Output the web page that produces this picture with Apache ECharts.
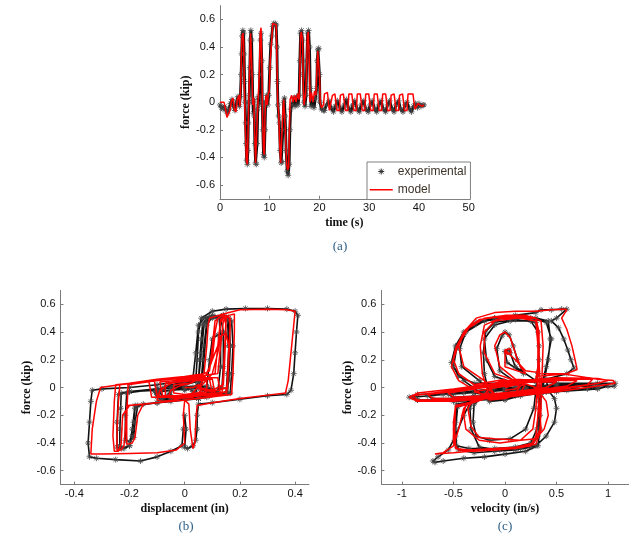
<!DOCTYPE html>
<html>
<head>
<meta charset="utf-8">
<script src="https://cdn.jsdelivr.net/npm/echarts@6/dist/echarts.min.js"></script>
<style>html,body{margin:0;padding:0;background:#fff;}#c{width:636px;height:542px;}</style>
</head>
<body>
<div id="c"></div>
<script>
// ---------- (a) force vs time ----------
const expTimeForce = [[0,-0.02],[0.3,-0.04],[0.6,-0.05],[0.9,-0.03],[1.2,-0.06],[1.5,-0.08],[1.8,-0.05],[2.1,-0.01],[2.4,0.02],[2.7,-0.03],[3.0,-0.06],[3.3,0.0],[3.6,0.04],[3.9,-0.03],[4.1,0.04],[4.25,0.2],[4.35,0.35],[4.45,0.48],[4.6,0.52],[4.75,0.5],[4.85,0.35],[4.95,0.15],[5.05,0.0],[5.15,-0.15],[5.25,-0.3],[5.35,-0.42],[5.5,-0.45],[5.6,-0.35],[5.7,-0.15],[5.8,0.0],[5.9,0.05],[6.0,0.25],[6.1,0.45],[6.2,0.52],[6.35,0.45],[6.5,0.2],[6.6,0.0],[6.7,-0.08],[6.8,0.02],[6.9,-0.1],[7.0,-0.3],[7.15,-0.44],[7.3,-0.45],[7.45,-0.3],[7.6,-0.05],[7.7,0.04],[7.85,-0.02],[8.0,0.2],[8.15,0.45],[8.25,0.5],[8.4,0.3],[8.5,0.0],[8.6,-0.2],[8.75,-0.38],[8.9,-0.4],[9.05,-0.2],[9.2,0.0],[9.4,0.05],[9.6,-0.02],[9.8,0.05],[10.0,0.25],[10.2,0.42],[10.4,0.48],[10.6,0.55],[10.8,0.57],[11.1,0.57],[11.3,0.56],[11.45,0.4],[11.55,0.15],[11.65,-0.02],[11.8,-0.1],[11.95,-0.15],[12.1,-0.35],[12.3,-0.44],[12.5,-0.43],[12.65,-0.2],[12.8,0.0],[12.95,0.03],[13.1,-0.1],[13.3,-0.35],[13.5,-0.5],[13.7,-0.53],[13.9,-0.45],[14.05,-0.2],[14.2,-0.05],[14.5,-0.02],[14.8,0.03],[15.1,-0.03],[15.4,0.04],[15.7,-0.02],[15.9,0.05],[16.05,0.3],[16.2,0.5],[16.4,0.52],[16.6,0.45],[16.75,0.2],[16.9,0.0],[17.1,-0.03],[17.3,0.05],[17.45,0.3],[17.6,0.5],[17.8,0.52],[18.0,0.4],[18.15,0.1],[18.3,-0.03],[18.6,0.02],[18.9,-0.04],[19.2,0.03],[19.45,0.1],[19.55,0.3],[19.7,0.38],[19.85,0.39],[20.0,0.2],[20.1,0.0],[20.4,-0.05],[20.8,-0.06],[21.0,-0.06],[21.4,-0.02],[21.9,0.01],[22.3,-0.04],[22.8,-0.07],[23.2,-0.03],[23.6,0.01],[24.1,-0.04],[24.5,-0.07],[25.0,-0.02],[25.4,0.02],[25.8,-0.04],[26.3,-0.07],[26.7,-0.02],[27.1,0.01],[27.6,-0.05],[28.0,-0.07],[28.4,-0.02],[28.9,0.01],[29.3,-0.05],[29.8,-0.07],[30.2,-0.02],[30.6,0.01],[31.1,-0.05],[31.5,-0.07],[31.9,-0.02],[32.4,0.01],[32.8,-0.05],[33.3,-0.07],[33.7,-0.02],[34.1,0.01],[34.6,-0.05],[35.0,-0.07],[35.4,-0.02],[35.9,0.01],[36.3,-0.05],[36.8,-0.07],[37.2,-0.02],[37.6,0.0],[38.1,-0.05],[38.5,-0.07],[38.9,-0.03],[39.3,-0.01],[39.7,-0.04],[40.0,-0.01],[40.4,-0.03],[40.8,-0.02],[41.0,-0.02]];

const modelTimeForce = [[0,0.0],[0.8,0.0],[1.1,-0.05],[1.4,-0.11],[1.7,-0.12],[2.0,-0.06],[2.3,0.01],[2.6,0.03],[2.9,-0.05],[3.2,-0.07],[3.5,0.02],[3.8,0.05],[4.0,-0.03],[4.15,0.1],[4.3,0.35],[4.45,0.48],[4.6,0.5],[4.75,0.45],[4.9,0.1],[5.1,-0.2],[5.3,-0.42],[5.5,-0.45],[5.65,-0.2],[5.8,0.02],[6.0,0.3],[6.15,0.5],[6.3,0.51],[6.45,0.2],[6.6,-0.02],[6.8,0.03],[6.95,-0.2],[7.15,-0.44],[7.3,-0.45],[7.5,-0.1],[7.7,0.05],[7.9,0.2],[8.1,0.5],[8.25,0.54],[8.4,0.3],[8.55,-0.1],[8.75,-0.35],[8.9,-0.38],[9.05,-0.1],[9.25,0.05],[9.5,-0.02],[9.7,0.06],[9.9,0.08],[10.1,0.3],[10.4,0.45],[10.6,0.57],[11.0,0.58],[11.3,0.56],[11.45,0.3],[11.6,0.0],[11.8,-0.08],[12.0,-0.3],[12.2,-0.44],[12.45,-0.44],[12.6,-0.1],[12.8,0.02],[12.95,0.03],[13.15,-0.2],[13.4,-0.45],[13.6,-0.49],[13.8,-0.47],[13.95,-0.2],[14.1,0.02],[14.4,0.05],[14.7,0.0],[15.0,0.05],[15.3,0.0],[15.6,0.06],[15.9,0.02],[16.05,0.2],[16.2,0.48],[16.35,0.51],[16.6,0.45],[16.75,0.1],[16.9,-0.02],[17.2,0.06],[17.4,0.2],[17.55,0.48],[17.75,0.51],[17.95,0.3],[18.1,0.0],[18.4,0.07],[18.7,0.0],[19.0,0.08],[19.3,0.05],[19.5,0.25],[19.65,0.37],[19.85,0.38],[20.0,0.2],[20.15,0.0],[20.4,-0.04],[20.8,-0.02],[21.0,0.06],[21.6,0.07],[21.8,0.0],[22.0,-0.06],[22.4,-0.06],[22.6,0.05],[23.1,0.06],[23.3,0.0],[23.5,-0.06],[24.0,-0.06],[24.2,0.05],[24.8,0.06],[25.0,0.0],[25.2,-0.06],[25.7,-0.06],[25.9,0.06],[26.5,0.06],[26.7,0.0],[26.9,-0.06],[27.4,-0.06],[27.6,0.06],[28.2,0.06],[28.4,0.0],[28.6,-0.06],[29.1,-0.06],[29.3,0.06],[29.9,0.06],[30.1,0.0],[30.3,-0.06],[30.8,-0.06],[31.0,0.06],[31.6,0.06],[31.8,0.0],[32.0,-0.06],[32.5,-0.06],[32.7,0.06],[33.3,0.06],[33.5,0.0],[33.7,-0.06],[34.2,-0.06],[34.4,0.05],[35.0,0.06],[35.2,0.0],[35.4,-0.06],[35.9,-0.06],[36.1,0.05],[36.7,0.06],[36.9,0.0],[37.1,-0.06],[37.6,-0.06],[37.8,0.06],[38.8,0.06],[39.0,0.0],[39.2,-0.05],[39.6,-0.05],[39.8,-0.01],[40.2,-0.02],[40.6,-0.03],[41.0,-0.02]];

// ---------- (b) force vs displacement ----------
const expDispForce = [[0.0,-0.02],[0.03,0.0],[0.05,0.03],[0.04,-0.04],[0.0,-0.07],[-0.04,-0.08],[-0.06,-0.05],[-0.04,0.0],[0.0,0.03],[0.04,0.05],[0.06,0.06],[0.05,0.0],[0.01,-0.07],[-0.05,-0.09],[-0.09,-0.09],[-0.1,-0.04],[-0.07,0.01],[0.0,0.04],[0.05,0.06],
[0.055,0.2],[0.06,0.35],[0.065,0.46],[0.08,0.5],[0.11,0.51],[0.125,0.5],[0.13,0.35],[0.13,0.15],[0.12,-0.03],[0.05,-0.08],[-0.05,-0.1],[-0.15,-0.12],[-0.18,-0.15],[-0.185,-0.25],[-0.19,-0.35],[-0.2,-0.42],[-0.22,-0.44],[-0.235,-0.42],[-0.235,-0.3],[-0.232,-0.15],[-0.23,-0.04],[-0.2,-0.03],[-0.1,-0.02],[0.0,0.02],[0.05,0.05],
[0.06,0.25],[0.07,0.45],[0.09,0.51],[0.14,0.52],[0.155,0.48],[0.16,0.3],[0.155,0.1],[0.15,-0.04],[0.05,-0.08],[-0.1,-0.11],[-0.18,-0.13],[-0.19,-0.3],[-0.2,-0.42],[-0.23,-0.44],[-0.245,-0.43],[-0.245,-0.25],[-0.24,-0.05],[-0.2,-0.03],[-0.1,-0.01],[0.0,0.02],[0.06,0.05],
[0.07,0.3],[0.08,0.47],[0.1,0.5],[0.15,0.51],[0.17,0.48],[0.175,0.3],[0.17,0.1],[0.165,-0.04],[0.05,-0.08],[-0.1,-0.11],[-0.17,-0.13],[-0.18,-0.25],[-0.185,-0.36],[-0.2,-0.39],[-0.215,-0.38],[-0.215,-0.2],[-0.21,-0.04],[-0.1,-0.01],[0.0,0.02],[0.04,0.05],
[0.045,0.2],[0.05,0.4],[0.06,0.5],[0.1,0.55],[0.15,0.565],[0.22,0.57],[0.3,0.57],[0.37,0.565],[0.4,0.55],[0.41,0.52],[0.405,0.4],[0.4,0.25],[0.395,0.1],[0.385,-0.02],[0.37,-0.05],[0.3,-0.06],[0.2,-0.085],[0.1,-0.11],[0.05,-0.12],[0.045,-0.2],[0.045,-0.3],[0.04,-0.38],[0.03,-0.42],[0.01,-0.44],[0.0,-0.43],[0.005,-0.3],[0.0,-0.2],[-0.005,-0.3],[-0.01,-0.42],[-0.05,-0.46],[-0.1,-0.5],[-0.16,-0.53],[-0.25,-0.52],[-0.32,-0.51],[-0.345,-0.5],[-0.35,-0.4],[-0.345,-0.25],[-0.34,-0.1],[-0.335,-0.02],[-0.3,-0.01],[-0.2,0.0],[-0.1,0.02],[0.0,0.05],[0.03,0.07],
[0.04,0.25],[0.05,0.45],[0.07,0.5],[0.1,0.52],[0.13,0.51],[0.14,0.4],[0.14,0.15],[0.135,0.0],[0.1,-0.04],[0.06,-0.02],[0.07,0.2],[0.08,0.45],[0.1,0.51],[0.14,0.52],[0.16,0.5],[0.165,0.3],[0.16,0.05],[0.15,-0.04],[0.1,-0.05],[0.08,0.0],[0.09,0.2],[0.1,0.35],[0.12,0.38],[0.15,0.39],[0.16,0.3],[0.16,0.1],[0.155,-0.04],
[0.08,-0.07],[0.0,-0.08],[-0.08,-0.08],[-0.1,-0.05],[-0.08,-0.01],[0.0,0.0],[0.08,0.01],[0.1,-0.03],[0.05,-0.07],[-0.05,-0.08],[-0.1,-0.07],[-0.11,-0.03],[-0.05,0.0],[0.05,0.01],[0.1,-0.01],[0.09,-0.06],[0.0,-0.08],[-0.08,-0.07],[-0.09,-0.03],[0.0,-0.01],[0.08,0.0],[0.08,-0.05],[0.0,-0.07],[-0.05,-0.06],[-0.05,-0.02],[0.02,-0.01],[0.03,-0.03]];

const modelDispForce = [[0.0,0.0],[0.03,0.0],[0.05,0.02],[0.06,-0.02],[0.03,-0.07],[-0.03,-0.08],[-0.06,-0.07],[-0.05,-0.02],[-0.02,0.01],[0.02,0.03],[0.05,0.06],[0.07,0.08],[0.06,0.03],[0.02,-0.06],[-0.04,-0.09],[-0.08,-0.1],[-0.1,-0.09],[-0.09,-0.02],[-0.05,0.03],[0.02,0.06],[0.08,0.09],
[0.1,0.2],[0.11,0.4],[0.12,0.5],[0.14,0.52],[0.15,0.5],[0.145,0.3],[0.14,0.1],[0.135,-0.05],[0.05,-0.08],[-0.05,-0.1],[-0.15,-0.12],[-0.21,-0.13],[-0.215,-0.3],[-0.22,-0.42],[-0.23,-0.45],[-0.245,-0.45],[-0.245,-0.3],[-0.24,-0.1],[-0.235,0.02],[-0.15,0.04],[-0.05,0.06],[0.05,0.08],[0.11,0.1],
[0.12,0.3],[0.13,0.47],[0.14,0.5],[0.16,0.51],[0.165,0.45],[0.16,0.2],[0.155,0.0],[0.15,-0.05],[0.0,-0.09],[-0.1,-0.11],[-0.2,-0.13],[-0.225,-0.2],[-0.23,-0.4],[-0.24,-0.46],[-0.255,-0.46],[-0.26,-0.35],[-0.255,-0.1],[-0.25,0.02],[-0.15,0.04],[-0.05,0.06],[0.05,0.08],[0.12,0.1],
[0.13,0.3],[0.14,0.48],[0.16,0.52],[0.18,0.53],[0.18,0.4],[0.175,0.1],[0.17,-0.05],[0.05,-0.08],[-0.05,-0.1],[-0.15,-0.12],[-0.17,-0.2],[-0.18,-0.36],[-0.19,-0.4],[-0.21,-0.41],[-0.21,-0.2],[-0.205,0.02],[-0.1,0.05],[0.0,0.07],[0.06,0.09],
[0.07,0.1],[0.08,0.3],[0.085,0.45],[0.09,0.5],[0.14,0.53],[0.2,0.56],[0.3,0.565],[0.37,0.56],[0.4,0.55],[0.395,0.45],[0.385,0.25],[0.375,0.05],[0.365,-0.04],[0.3,-0.055],[0.2,-0.08],[0.1,-0.11],[0.045,-0.13],[0.04,-0.25],[0.037,-0.4],[0.03,-0.44],[0.02,-0.3],[0.015,-0.12],[0.0,-0.09],[-0.005,-0.2],[0.0,-0.4],[-0.03,-0.45],[-0.1,-0.47],[-0.2,-0.475],[-0.3,-0.48],[-0.34,-0.48],[-0.335,-0.3],[-0.32,-0.1],[-0.305,0.0],[-0.2,0.03],[-0.1,0.06],[0.0,0.08],[0.07,0.1],
[0.09,0.12],[0.1,0.3],[0.11,0.48],[0.13,0.51],[0.14,0.52],[0.15,0.45],[0.145,0.2],[0.14,0.02],[0.1,-0.02],[0.05,0.0],[0.08,0.1],[0.12,0.3],[0.13,0.49],[0.15,0.52],[0.165,0.5],[0.16,0.2],[0.155,0.0],[0.1,-0.03],[0.05,-0.01],[0.1,0.1],[0.12,0.25],[0.13,0.37],[0.15,0.39],[0.16,0.3],[0.155,0.05],[0.15,-0.03],
[0.05,-0.06],[-0.05,-0.07],[-0.1,-0.06],[-0.11,0.05],[-0.05,0.06],[0.05,0.07],[0.1,0.06],[0.11,-0.05],[0.0,-0.07],[-0.12,-0.07],[-0.13,0.05],[0.0,0.07],[0.12,0.07],[0.13,-0.05],[0.02,-0.06],[-0.08,-0.06],[-0.09,0.04],[0.02,0.06],[0.09,0.06],[0.1,-0.04],[-0.02,-0.06],[-0.07,-0.06],[-0.07,0.03],[0.04,0.05],[0.08,0.05],[0.08,-0.03],[0.0,-0.05],[-0.04,-0.04],[-0.04,0.02],[0.02,0.03]];

// ---------- (c) force vs velocity ----------
const expVelForce = [[0.0,-0.02],[0.1,0.0],[0.15,-0.02],[0.1,-0.06],[0.0,-0.07],[-0.1,-0.07],[-0.15,-0.04],[-0.1,0.0],[0.0,0.02],[0.1,0.02],[0.2,0.0],[0.15,-0.06],[0.0,-0.09],[-0.15,-0.1],[-0.2,-0.07],[-0.12,-0.01],[0.0,0.03],
[-0.3,0.03],[-0.45,0.08],[-0.52,0.18],[-0.48,0.3],[-0.4,0.4],[-0.28,0.47],[-0.1,0.5],[0.1,0.51],[0.3,0.5],[0.42,0.48],[0.44,0.35],[0.42,0.2],[0.38,0.05],
[0.35,-0.05],[0.34,-0.2],[0.32,-0.35],[0.25,-0.43],[0.1,-0.45],[-0.1,-0.46],[-0.3,-0.47],[-0.45,-0.45],[-0.49,-0.38],[-0.48,-0.25],[-0.47,-0.12],[-0.3,-0.1],[-0.1,-0.05],
[-0.25,0.05],[-0.42,0.15],[-0.44,0.28],[-0.38,0.4],[-0.2,0.48],[0.0,0.5],[0.25,0.5],[0.4,0.47],[0.45,0.35],[0.4,0.15],[0.35,0.0],
[0.33,-0.15],[0.31,-0.3],[0.25,-0.4],[0.1,-0.43],[-0.1,-0.44],[-0.35,-0.44],[-0.47,-0.42],[-0.48,-0.3],[-0.46,-0.14],[-0.3,-0.1],[-0.15,-0.06],
[-0.2,0.1],[-0.21,0.25],[-0.19,0.4],[-0.1,0.47],[0.1,0.49],[0.3,0.47],[0.33,0.3],[0.32,0.1],[0.3,-0.02],
[0.28,-0.15],[0.2,-0.3],[0.05,-0.37],[-0.15,-0.38],[-0.28,-0.35],[-0.31,-0.25],[-0.3,-0.12],[-0.2,-0.06],
[-0.4,0.05],[-0.5,0.15],[-0.47,0.28],[-0.4,0.38],[-0.3,0.45],[-0.1,0.5],[0.1,0.52],[0.3,0.54],[0.35,0.56],[0.45,0.56],[0.55,0.565],[0.6,0.565],[0.5,0.5],[0.45,0.48],[0.52,0.43],[0.57,0.35],[0.61,0.27],[0.64,0.2],[0.67,0.14],[0.6,0.1],[0.4,0.06],
[0.42,-0.02],[0.48,-0.08],[0.5,-0.15],[0.48,-0.25],[0.4,-0.35],[0.3,-0.42],[0.15,-0.44],[-0.05,-0.45],[-0.25,-0.43],[-0.33,-0.3],[-0.34,-0.15],[-0.3,-0.06],[-0.4,-0.2],[-0.48,-0.35],[-0.55,-0.45],[-0.65,-0.5],[-0.7,-0.53],[-0.68,-0.54],[-0.6,-0.53],[-0.4,-0.51],[-0.2,-0.5],[0.0,-0.48],[0.2,-0.46],[0.32,-0.42],[0.34,-0.3],[0.33,-0.1],[0.3,0.0],
[0.1,0.03],[-0.1,0.08],[-0.18,0.2],[-0.2,0.35],[-0.1,0.45],[0.05,0.48],[0.25,0.48],[0.32,0.4],[0.33,0.2],[0.3,0.04],[0.1,0.04],[-0.05,0.12],[-0.08,0.28],[-0.03,0.37],[0.0,0.4],[0.04,0.38],[0.08,0.3],[0.12,0.2],[0.18,0.1],[0.02,0.18],[0.0,0.26],[0.04,0.27],[0.05,0.25],[0.1,0.15],[0.3,0.05],[0.5,0.03],
[0.9,0.03],[1.07,0.03],[1.06,0.01],[0.9,0.0],[0.5,-0.02],[0.0,-0.08],[-0.5,-0.1],[-0.85,-0.09],[-0.93,-0.07],[-0.85,-0.05],[-0.5,-0.04],[0.0,0.0],[0.5,0.02],[0.9,0.02],[1.0,0.01],[0.9,-0.01],[0.5,-0.03],[0.0,-0.07],[-0.5,-0.09],[-0.85,-0.09],[-0.9,-0.07],[-0.6,-0.05],[0.0,-0.01],[0.5,0.01],[0.85,0.01],[0.8,-0.01],[0.4,-0.03],[0.0,-0.06],[-0.4,-0.08],[-0.7,-0.08],[-0.75,-0.06],[-0.4,-0.04],[0.0,-0.02],[0.4,0.0],[0.7,0.0],[0.6,-0.02],[0.2,-0.04],[-0.2,-0.06],[-0.5,-0.07],[-0.55,-0.05],[-0.2,-0.03],[0.2,-0.01],[0.5,-0.01],[0.4,-0.03],[0.1,-0.04],[-0.2,-0.05],[-0.3,-0.04],[0.0,-0.02],[0.2,-0.01],[0.1,-0.02],[0.0,-0.03]];

const modelVelForce = [[0.0,0.0],[0.1,0.02],[0.15,0.01],[0.1,-0.04],[0.0,-0.06],[-0.1,-0.05],[-0.15,-0.02],[-0.1,0.03],[0.0,0.05],[0.1,0.05],[0.2,0.03],[0.15,-0.04],[0.0,-0.08],[-0.15,-0.09],[-0.2,-0.05],[-0.12,0.02],[0.0,0.06],
[-0.3,0.02],[-0.45,0.1],[-0.5,0.2],[-0.45,0.32],[-0.35,0.43],[-0.2,0.5],[0.0,0.52],[0.2,0.52],[0.3,0.5],[0.33,0.4],[0.33,0.2],[0.34,0.05],
[0.33,-0.05],[0.32,-0.2],[0.3,-0.35],[0.25,-0.42],[0.1,-0.44],[-0.1,-0.45],[-0.3,-0.46],[-0.45,-0.45],[-0.5,-0.4],[-0.5,-0.25],[-0.48,-0.13],[-0.3,-0.1],[-0.1,-0.05],
[-0.2,0.05],[-0.4,0.15],[-0.45,0.3],[-0.38,0.42],[-0.25,0.49],[-0.05,0.51],[0.25,0.51],[0.35,0.48],[0.37,0.3],[0.36,0.1],[0.35,-0.02],
[0.35,-0.15],[0.34,-0.3],[0.28,-0.4],[0.1,-0.43],[-0.1,-0.44],[-0.35,-0.45],[-0.48,-0.44],[-0.49,-0.3],[-0.48,-0.14],[-0.35,-0.12],[-0.15,-0.07],
[-0.22,0.1],[-0.24,0.3],[-0.2,0.45],[-0.05,0.5],[0.15,0.5],[0.3,0.48],[0.32,0.3],[0.32,0.1],[0.31,-0.02],
[0.3,-0.15],[0.27,-0.3],[0.15,-0.38],[-0.05,-0.4],[-0.25,-0.38],[-0.38,-0.3],[-0.4,-0.2],[-0.38,-0.12],[-0.2,-0.06],
[-0.45,0.05],[-0.52,0.15],[-0.48,0.28],[-0.4,0.4],[-0.28,0.5],[-0.1,0.54],[0.1,0.55],[0.3,0.55],[0.45,0.56],[0.58,0.565],[0.6,0.56],[0.55,0.5],[0.6,0.42],[0.65,0.3],[0.68,0.2],[0.7,0.13],[0.6,0.1],[0.3,0.08],
[0.35,-0.05],[0.4,-0.1],[0.42,-0.2],[0.38,-0.3],[0.3,-0.37],[0.15,-0.38],[-0.1,-0.37],[-0.25,-0.36],[-0.33,-0.28],[-0.36,-0.15],[-0.3,-0.08],[-0.4,-0.15],[-0.45,-0.3],[-0.5,-0.42],[-0.6,-0.47],[-0.68,-0.48],[-0.5,-0.47],[-0.2,-0.45],[0.1,-0.43],[0.3,-0.41],[0.35,-0.3],[0.33,-0.1],[0.3,0.0],
[0.1,0.05],[-0.1,0.1],[-0.2,0.25],[-0.2,0.4],[-0.1,0.48],[0.1,0.5],[0.3,0.5],[0.32,0.35],[0.32,0.15],[0.3,0.05],[0.1,0.06],[-0.05,0.15],[-0.1,0.3],[-0.05,0.38],[0.0,0.4],[0.05,0.36],[0.1,0.25],[0.15,0.15],[0.2,0.1],[0.0,0.15],[0.0,0.27],[0.05,0.28],[0.06,0.25],[0.02,0.24],[0.0,0.27],[0.1,0.2],[0.2,0.12],[0.4,0.1],[0.55,0.1],
[0.9,0.06],[1.05,0.05],[1.07,0.03],[0.9,0.01],[0.5,-0.03],[0.0,-0.07],[-0.5,-0.1],[-0.85,-0.1],[-0.93,-0.07],[-0.85,-0.04],[-0.5,-0.01],[0.0,0.04],[0.5,0.07],[0.9,0.065],[1.0,0.05],[0.9,0.03],[0.5,-0.02],[0.0,-0.06],[-0.5,-0.09],[-0.85,-0.09],[-0.9,-0.06],[-0.6,-0.03],[0.0,0.03],[0.5,0.06],[0.85,0.06],[0.8,0.02],[0.4,-0.02],[0.0,-0.05],[-0.4,-0.08],[-0.7,-0.08],[-0.75,-0.05],[-0.4,-0.02],[0.0,0.02],[0.4,0.05],[0.7,0.05],[0.6,0.01],[0.2,-0.03],[-0.2,-0.06],[-0.5,-0.07],[-0.55,-0.04],[-0.2,0.0],[0.2,0.04],[0.5,0.04],[0.4,0.0],[0.1,-0.03],[-0.2,-0.05],[-0.3,-0.03],[0.0,0.01],[0.2,0.03],[0.1,-0.01],[0.0,-0.02]];

// ---------- tick labels ----------
const forceTicks = [-0.6,-0.4,-0.2,0,0.2,0.4,0.6];
const timeTicks = [0,10,20,30,40,50];
const dispTicks = [-0.4,-0.2,0,0.2,0.4];
const velTicks = [-1,-0.5,0,0.5,1];
const seriesNames = ['experimental','model'];
const axisTitles = ['time (s)','displacement (in)','velocity (in/s)','force (kip)'];
const captions = ['(a)','(b)','(c)'];

const star = 'path://M0,-4L0,4M-4,0L4,0M-2.8,-2.8L2.8,2.8M-2.8,2.8L2.8,-2.8';
const starLegend = 'path://M-11.5,-7M11.5,7M0,-3L0,3M-3,0L3,0M-2.1,-2.1L2.1,2.1M-2.1,2.1L2.1,-2.1';
const lineLegend = 'path://M0,-7M0,0L23,0M23,7';
const axisGray = '#7a7a7a';
const labelStyle = {fontFamily:'Liberation Sans, Arial, sans-serif', fontSize:11, color:'#111'};
const nameStyle = {fontFamily:'Liberation Serif, Times New Roman, serif', fontSize:12, fontWeight:'bold', color:'#111'};
function fmt(v){ return v === 0 ? '0' : String(+v.toFixed(2)); }

function xAx(idx, min, max, ticks, name, gap){
  return {type:'value', gridIndex:idx, min:min, max:max, name:name, nameLocation:'middle', nameGap:gap, nameTextStyle:nameStyle,
    axisLine:{show:true, onZero:false, lineStyle:{color:axisGray, width:1}},
    axisTick:{show:true, inside:true, length:3, customValues:ticks, lineStyle:{color:axisGray}},
    axisLabel:{customValues:ticks, formatter:fmt, margin:4, ...labelStyle},
    splitLine:{show:false}};
}
function yAx(idx, gap){
  return {type:'value', gridIndex:idx, min:-0.7, max:0.7, name:axisTitles[3], nameLocation:'middle', nameGap:gap, nameTextStyle:nameStyle,
    axisLine:{show:true, onZero:false, lineStyle:{color:axisGray, width:1}},
    axisTick:{show:true, inside:true, length:3, customValues:forceTicks, lineStyle:{color:axisGray}},
    axisLabel:{customValues:forceTicks, formatter:fmt, margin:5, ...labelStyle},
    splitLine:{show:false}};
}
function expSeries(i, data, w){
  return {name:seriesNames[0], type:'line', xAxisIndex:i, yAxisIndex:i, data:data, z:2,
    symbol:star, symbolSize:6, showSymbol:true,
    itemStyle:{color:'rgba(0,0,0,0)', borderColor:'#444', borderWidth:0.8},
    lineStyle:{color:'#111', width:w}, emphasis:{disabled:true}};
}
function modelSeries(i, data){
  return {name:seriesNames[1], type:'line', xAxisIndex:i, yAxisIndex:i, data:data, z:3,
    symbol:'none', lineStyle:{color:'#ff0000', width:1.5}, itemStyle:{color:'#ff0000'}, emphasis:{disabled:true}};
}

const chart = echarts.init(document.getElementById('c'), null, {renderer:'canvas'});
chart.setOption({
  animation:false,
  backgroundColor:'#fff',
  grid:[
    {left:220, top:5.6, width:248.7, height:193.2},
    {left:60.5, top:290.4, width:248.4, height:194.2},
    {left:381.4, top:290.4, width:247.2, height:194.2}
  ],
  xAxis:[xAx(0,0,50,timeTicks,axisTitles[0],18), xAx(1,-0.45,0.45,dispTicks,axisTitles[1],18), xAx(2,-1.2,1.2,velTicks,axisTitles[2],18)],
  yAxis:[yAx(0,23), yAx(1,23), yAx(2,23)],
  legend:{show:true, orient:'vertical', left:367, top:162, padding:[2,4,2,2], itemGap:3, itemWidth:23, itemHeight:14,
    backgroundColor:'#fff', borderColor:'#808080', borderWidth:1, borderRadius:0,
    textStyle:{fontFamily:'Liberation Sans, Arial, sans-serif', fontSize:12, color:'#3d3329'},
    data:[{name:seriesNames[0], icon:starLegend, itemStyle:{color:'rgba(0,0,0,0)', borderColor:'#333', borderWidth:1}},
          {name:seriesNames[1], icon:lineLegend, itemStyle:{color:'rgba(0,0,0,0)', borderColor:'#ff0000', borderWidth:1.5}}]},
  graphic:[
    {type:'text', x:340, y:247, style:{text:captions[0], fill:'#2e5f86', font:'13px "Liberation Serif", serif', align:'center', verticalAlign:'middle'}},
    {type:'text', x:186, y:527, style:{text:captions[1], fill:'#2e5f86', font:'13px "Liberation Serif", serif', align:'center', verticalAlign:'middle'}},
    {type:'text', x:505, y:527, style:{text:captions[2], fill:'#2e5f86', font:'13px "Liberation Serif", serif', align:'center', verticalAlign:'middle'}}
  ],
  series:[
    expSeries(0, expTimeForce, 2.8), modelSeries(0, modelTimeForce),
    expSeries(1, expDispForce, 1.6), modelSeries(1, modelDispForce),
    expSeries(2, expVelForce, 1.6), modelSeries(2, modelVelForce)
  ]
});
</script>
</body>
</html>
